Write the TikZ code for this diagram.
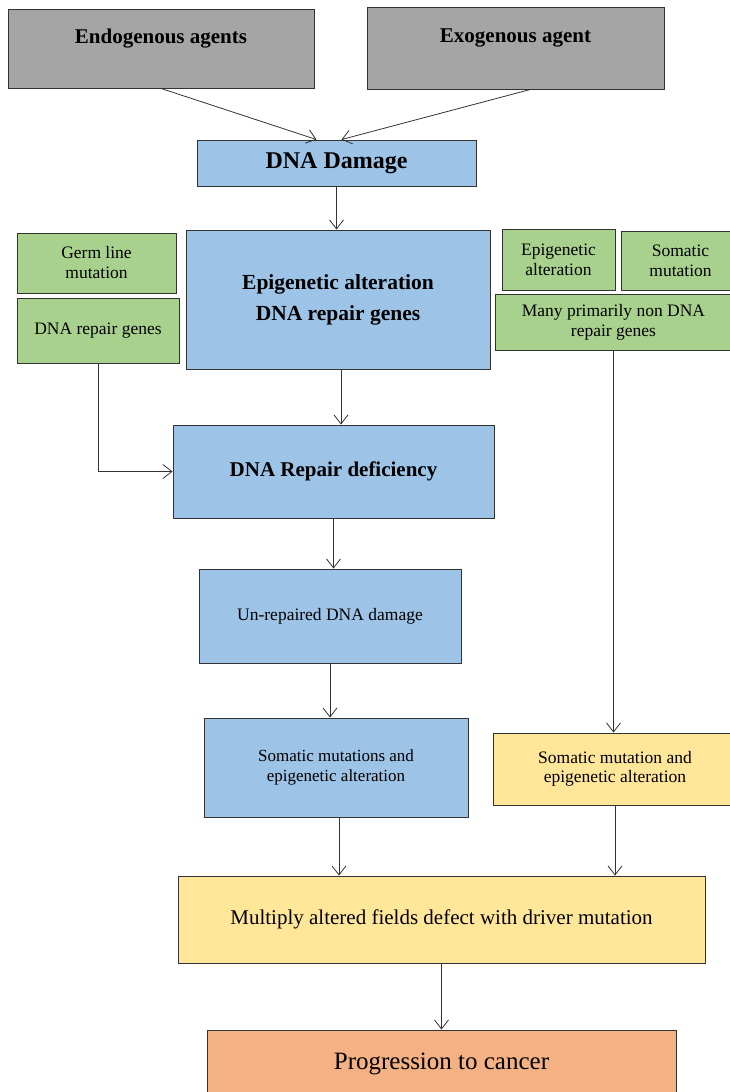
\documentclass[tikz,border=0pt]{standalone}
\usepackage{fontspec}
\setmainfont{Liberation Serif}
\usepackage{tikz}
\usetikzlibrary{arrows.meta, positioning, calc}

\definecolor{boxgray}{HTML}{A5A5A5}
\definecolor{boxblue}{HTML}{9DC3E6}
\definecolor{boxgreen}{HTML}{A9D18E}
\definecolor{boxyellow}{HTML}{FFE699}
\definecolor{boxorange}{HTML}{F4B183}
\definecolor{edgegray}{HTML}{333333}

\begin{document}
\begin{tikzpicture}[x=1pt, y=-1pt,
    box/.style={rectangle, draw=edgegray, line width=0.9pt, align=center, inner sep=2pt},
    agent/.style={box, fill=boxgray, font=\fontsize{21}{24}\selectfont\bfseries, text height=12pt, text depth=23pt},
    bluebox/.style={box, fill=boxblue},
    greenbox/.style={box, fill=boxgreen, font=\fontsize{17.5}{20}\selectfont},
    yellowbox/.style={box, fill=boxyellow},
    arr/.style={-{Straight Barb[length=9pt, width=14pt]}, draw=edgegray, line width=0.8pt}]
    \useasboundingbox (0,0) rectangle (729,1092);

    % top row
    \node[agent, minimum width=306pt, minimum height=79pt] (endo) at (161,48.5) {Endogenous agents};
    \node[agent, minimum width=297pt, minimum height=82pt] (exo) at (515.5,48) {Exogenous agent};
    \node[bluebox, minimum width=279pt, minimum height=46pt, font=\fontsize{24}{28}\selectfont\bfseries] (dmg) at (336.5,163) {DNA Damage};

    % genes
    \node[bluebox, minimum width=304pt, minimum height=139pt, font=\fontsize{21.5}{31}\selectfont\bfseries] (epi) at (338,299.5) {Epigenetic alteration\\DNA repair genes};
    \node[greenbox, minimum width=159pt, minimum height=60pt] (germ) at (96.5,263) {Germ line\\mutation};
    \node[greenbox, minimum width=162pt, minimum height=65pt] (repl) at (98,330.5) {DNA repair genes};
    \node[greenbox, minimum width=113pt, minimum height=61pt] (epis) at (558.5,259.5) {Epigenetic\\alteration};
    \node[greenbox, minimum width=119pt, minimum height=59pt] (som) at (680.5,260.5) {Somatic\\mutation};
    \node[greenbox, minimum width=237pt, minimum height=56pt] (many) at (613.5,322) {Many primarily non DNA\\repair genes};

    % left branch
    \node[bluebox, minimum width=321pt, minimum height=93pt, font=\fontsize{21}{24}\selectfont\bfseries] (def) at (333.5,471.5) {DNA Repair deficiency};
    \node[bluebox, minimum width=262pt, minimum height=94pt, font=\fontsize{17.5}{20}\selectfont] (unrep) at (330,616) {Un-repaired DNA damage};
    \node[bluebox, minimum width=264pt, minimum height=99pt, font=\fontsize{17}{20}\selectfont] (smb) at (336,767.5) {Somatic mutations and\\epigenetic alteration};

    % right branch
    \node[yellowbox, minimum width=244pt, minimum height=72pt, font=\fontsize{17.5}{19}\selectfont] (smy) at (615,769) {Somatic mutation and\\epigenetic alteration};

    % bottom
    \node[yellowbox, minimum width=527pt, minimum height=87pt, font=\fontsize{21}{24}\selectfont] (mult) at (441.5,919.5) {Multiply altered fields defect with driver mutation};
    \node[box, fill=boxorange, minimum width=469pt, minimum height=70pt, font=\fontsize{25}{28}\selectfont, text height=17pt, text depth=9pt] (prog) at (441.5,1065) {Progression to cancer};

    \draw[arr] (endo.south) -- ([xshift=-20pt]dmg.north);
    \draw[arr] ([xshift=15pt]exo.south) -- ([xshift=5pt]dmg.north);
    \draw[arr] (dmg.south) -- (dmg.south |- epi.north);
    \draw[arr] ([xshift=3pt]epi.south) -- ([xshift=3pt]epi.south |- def.north);
    \draw[arr] (repl.south) |- (def.west);
    \draw[arr] (def.south) -- (def.south |- unrep.north);
    \draw[arr] (unrep.south) -- (unrep.south |- smb.north);
    \draw[arr] (many.south) -- (many.south |- smy.north);
    \draw[arr] ([xshift=3pt]smb.south) -- ([xshift=3pt]smb.south |- mult.north);
    \draw[arr] (smy.south) -- (smy.south |- mult.north);
    \draw[arr] (mult.south) -- (prog.north);
\end{tikzpicture}
\end{document}
